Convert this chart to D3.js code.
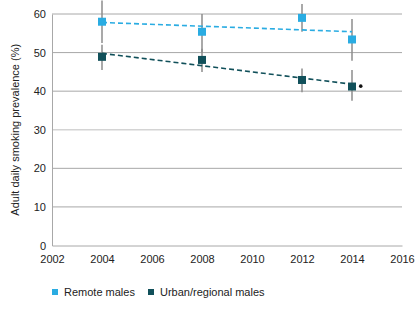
<!DOCTYPE html>
<html><head><meta charset="utf-8">
<script src="https://cdn.jsdelivr.net/npm/d3@7"></script>
<style>body{margin:0;background:#fff}svg{display:block}text{font-family:"Liberation Sans",Arial,sans-serif}</style>
</head><body><svg id="c" width="420" height="315"></svg>
<script>
const years = [2004, 2008, 2012, 2014];
const remoteValues = [58.0, 55.4, 59.0, 53.4];
const remoteLow = [52.5, 50.0, 55.4, 47.9];
const remoteHigh = [63.5, 60.0, 62.6, 58.7];
const urbanValues = [48.9, 48.1, 42.9, 41.2];
const urbanLow = [45.5, 45.0, 39.7, 37.5];
const urbanHigh = [52.0, 51.0, 45.9, 45.5];
const remoteTrend = [[2004, 57.8], [2014, 55.4]];
const urbanTrend = [[2004, 49.8], [2014, 41.8]];
const urbanTrendEnd = [2014.35, 41.3];
const xTicks = [2002, 2004, 2006, 2008, 2010, 2012, 2014, 2016];
const yTicks = [0, 10, 20, 30, 40, 50, 60];
const seriesNames = ["Remote males", "Urban/regional males"];
const colors = ["#2aace2", "#11505a"];

const svg = d3.select("#c");
const x = d3.scaleLinear().domain([2002, 2016]).range([52, 402]);
const y = d3.scaleLinear().domain([0, 60]).range([245.5, 14]);

// gridlines
svg.append("g").selectAll("line").data(yTicks.filter(d => d > 0)).join("line")
  .attr("x1", x(2002)).attr("x2", x(2016))
  .attr("y1", d => y(d)).attr("y2", d => y(d))
  .attr("stroke", d => d === 30 ? "#d4d4d4" : "#a8a8a8")
  .attr("stroke-width", d => d === 30 ? 1.5 : 1);

// axes
const yAxis = svg.append("g").attr("transform", `translate(${x(2002)},0)`)
  .call(d3.axisLeft(y).tickValues(yTicks).tickSize(0).tickPadding(6));
yAxis.select(".domain").attr("stroke", "#a8a8a8");
yAxis.selectAll("text").attr("font-size", 11).attr("fill", "#222");

const xAxis = svg.append("g").attr("transform", `translate(0,${y(0)})`)
  .call(d3.axisBottom(x).tickValues(xTicks).tickFormat(d3.format("d")).tickSize(0).tickPadding(10));
xAxis.select(".domain").attr("stroke", "#a8a8a8");
xAxis.selectAll("text").attr("font-size", 11).attr("fill", "#222");

svg.append("text").attr("transform", `translate(19,${(y(0)+y(60))/2}) rotate(-90)`)
  .attr("text-anchor", "middle").attr("font-size", 11).attr("fill", "#222")
  .text("Adult daily smoking prevalence (%)");

// error bars
const bars = [];
years.forEach((yr, i) => {
  bars.push({yr, lo: remoteLow[i], hi: remoteHigh[i]});
  bars.push({yr, lo: urbanLow[i], hi: urbanHigh[i]});
});
svg.append("g").selectAll("line").data(bars).join("line")
  .attr("x1", d => x(d.yr)).attr("x2", d => x(d.yr))
  .attr("y1", d => y(d.lo)).attr("y2", d => y(d.hi))
  .attr("stroke", "#8c8c8c").attr("stroke-width", 1.5);

// trend lines
const line = d3.line().x(d => x(d[0])).y(d => y(d[1]));
[remoteTrend, urbanTrend].forEach((t, i) => {
  svg.append("path").datum(t).attr("d", line).attr("fill", "none")
    .attr("stroke", colors[i]).attr("stroke-width", 1.6).attr("stroke-dasharray", "5,3");
});

// markers
const s = 8;
[remoteValues, urbanValues].forEach((vals, i) => {
  svg.append("g").selectAll("rect").data(vals).join("rect")
    .attr("x", (d, j) => x(years[j]) - s/2).attr("y", d => y(d) - s/2)
    .attr("width", s).attr("height", s).attr("fill", colors[i]);
});
svg.append("circle").attr("cx", x(urbanTrendEnd[0])).attr("cy", y(urbanTrendEnd[1]))
  .attr("r", 1.8).attr("fill", "#111");

// legend
const leg = svg.append("g");
const legX = [52, 148];
seriesNames.forEach((n, i) => {
  leg.append("rect").attr("x", legX[i]).attr("y", 289).attr("width", 6).attr("height", 6).attr("fill", colors[i]);
  leg.append("text").attr("x", legX[i] + 12).attr("y", 296).attr("font-size", 11).attr("fill", "#222").text(n);
});
</script></body></html>
